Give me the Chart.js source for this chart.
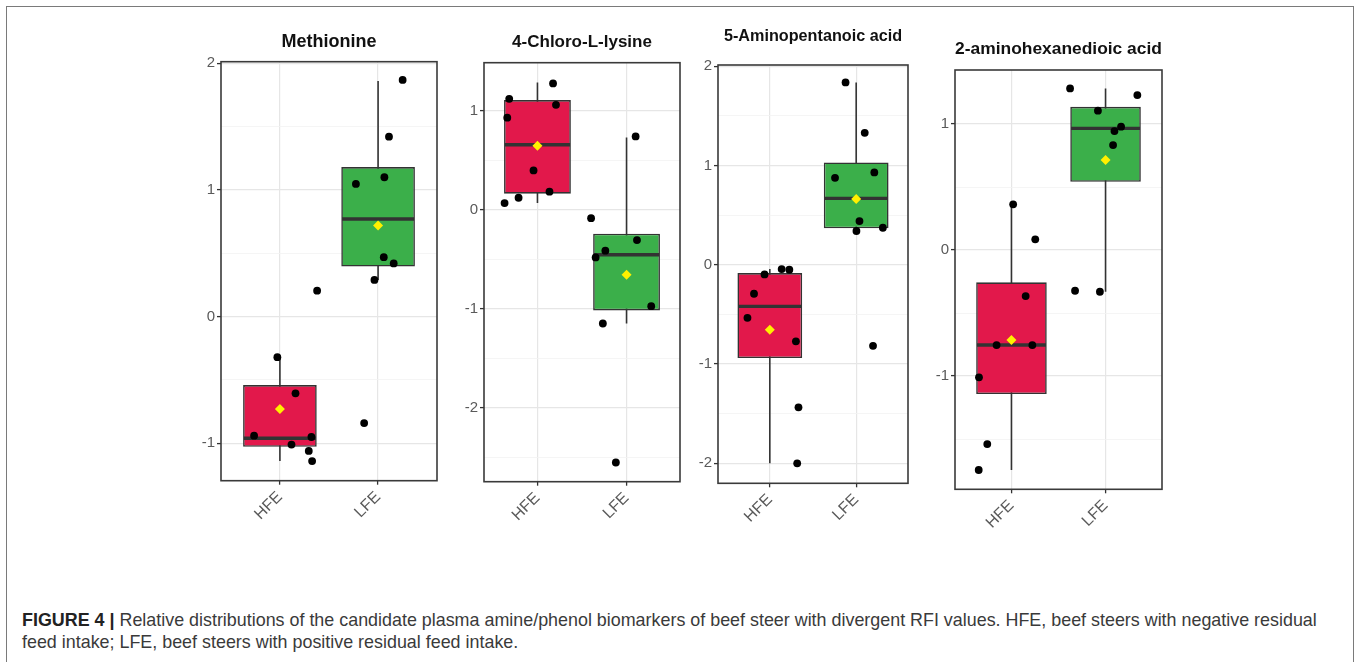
<!DOCTYPE html>
<html>
<head>
<meta charset="utf-8">
<script src="https://cdn.jsdelivr.net/npm/chart.js@4.4.1/dist/chart.umd.min.js"></script>
<style>
html,body{margin:0;padding:0;background:#fff;width:1358px;height:662px;overflow:hidden;position:relative;font-family:'Liberation Sans',Arial,sans-serif;}
#frame{position:absolute;left:6px;top:6px;width:1348px;height:720px;border:1.5px solid #7a7a7a;box-sizing:border-box;}
canvas{position:absolute;top:0;}
#caption{position:absolute;left:22px;top:609px;font-size:17.9px;line-height:22px;color:#3a3a3a;white-space:nowrap;}
#caption b{color:#222;}
</style>
</head>
<body>
<div id="frame"></div>
<div id="caption"><b>FIGURE 4 |</b> Relative distributions of the candidate plasma amine/phenol biomarkers of beef steer with divergent RFI values. HFE, beef steers with negative residual<br>feed intake; LFE, beef steers with positive residual feed intake.</div>
<script>
// ---------- data ----------
const groups = ['HFE', 'LFE'];
const titles = ['Methionine', '4-Chloro-L-lysine', '5-Aminopentanoic acid', '2-aminohexanedioic acid'];

// Methionine
const metHfeX = [0.974, 1.159, 0.737, 1.118, 1.321, 1.294, 1.328, 1.379];
const metHfeY = [-0.32, -0.605, -0.94, -1.01, -0.95, -1.06, -1.14, 0.205];
const metLfeX = [2.25, 2.111, 2.064, 1.774, 2.058, 2.159, 1.963, 1.858];
const metLfeY = [1.868, 1.42, 1.10, 1.047, 0.469, 0.42, 0.29, -0.84];
const metQ1 = [-1.027, 0.395];
const metMedian = [-0.96, 0.77];
const metQ3 = [-0.54, 1.18];
const metLow = [-1.14, 0.29];
const metHigh = [-0.32, 1.86];
const metMean = [-0.73, 0.72];
const metTicks = [-1, 0, 1, 2];
const metMinor = [-0.5, 0.5, 1.5];

// 4-Chloro-L-lysine
const chlHfeX = [0.631, 0.683, 0.661, 0.788, 0.956, 1.135, 1.175, 1.208];
const chlHfeY = [0.067, 1.12, 0.93, 0.121, 0.397, 0.182, 1.276, 1.06];
const chlLfeX = [2.102, 1.602, 2.117, 1.762, 1.653, 2.277, 1.734, 1.880];
const chlLfeY = [0.74, -0.085, -0.307, -0.414, -0.482, -0.974, -1.149, -2.553];
const chlQ1 = [0.162, -1.017];
const chlMedian = [0.657, -0.455];
const chlQ3 = [1.108, -0.242];
const chlLow = [0.067, -1.149];
const chlHigh = [1.285, 0.73];
const chlMean = [0.646, -0.657];
const chlTicks = [-2, -1, 0, 1];
const chlMinor = [-2.5, -1.5, -0.5, 0.5];

// 5-Aminopentanoic acid
const amiHfeX = [0.939, 1.137, 1.226, 0.817, 0.741, 1.302, 1.332, 1.317];
const amiHfeY = [-0.097, -0.043, -0.05, -0.292, -0.534, -0.771, -1.436, -2.0];
const amiLfeX = [1.877, 2.099, 2.21, 1.755, 2.038, 2.309, 2.003, 2.195];
const amiLfeY = [1.837, 1.329, 0.93, 0.876, 0.44, 0.373, 0.34, -0.816];
const amiQ1 = [-0.94, 0.367];
const amiMedian = [-0.419, 0.669];
const amiQ3 = [-0.084, 1.031];
const amiLow = [-2.0, 0.34];
const amiHigh = [-0.043, 1.837];
const amiMean = [-0.654, 0.662];
const amiTicks = [-2, -1, 0, 1, 2];
const amiMinor = [-1.5, -0.5, 0.5, 1.5];

// 2-aminohexanedioic acid
const adiHfeX = [1.018, 1.253, 1.151, 0.842, 1.222, 0.655, 0.743, 0.652];
const adiHfeY = [0.363, 0.085, -0.365, -0.754, -0.754, -1.01, -1.54, -1.746];
const adiLfeX = [1.623, 2.338, 1.919, 2.165, 2.095, 2.08, 1.676, 1.94];
const adiLfeY = [1.283, 1.23, 1.106, 0.979, 0.944, 0.833, -0.323, -0.331];
const adiQ1 = [-1.143, 0.542];
const adiMedian = [-0.754, 0.966];
const adiQ3 = [-0.256, 1.137];
const adiLow = [-1.746, -0.331];
const adiHigh = [0.363, 1.283];
const adiMean = [-0.714, 0.714];
const adiTicks = [-1, 0, 1];
const adiMinor = [-1.5, -0.5, 0.5];

// ---------- layout / style ----------
const boxColors = ['#E2184B', '#3BAF4A'];
const darkLine = '#333333';
const FONT = "'Liberation Sans', Arial, sans-serif";
const CANVAS_H = 545;
const YAXIS_W = 45;
const RIGHT_PAD = 10;

const panels = [
  { title: titles[0], hx: metHfeX, hy: metHfeY, lx: metLfeX, ly: metLfeY, q1: metQ1, med: metMedian, q3: metQ3, lo: metLow, hi: metHigh, mean: metMean, ticks: metTicks, minor: metMinor,
    yMin: -1.295, yMax: 2.012, left: 220.7, top: 61.7, right: 436.7, bottom: 480.7, titleY: 42, titleSize: 18 },
  { title: titles[1], hx: chlHfeX, hy: chlHfeY, lx: chlLfeX, ly: chlLfeY, q1: chlQ1, med: chlMedian, q3: chlQ3, lo: chlLow, hi: chlHigh, mean: chlMean, ticks: chlTicks, minor: chlMinor,
    yMin: -2.747, yMax: 1.485, left: 484.3, top: 62.7, right: 680.7, bottom: 481.7, titleY: 42.5, titleSize: 17 },
  { title: titles[2], hx: amiHfeX, hy: amiHfeY, lx: amiLfeX, ly: amiLfeY, q1: amiQ1, med: amiMedian, q3: amiQ3, lo: amiLow, hi: amiHigh, mean: amiMean, ticks: amiTicks, minor: amiMinor,
    yMin: -2.201, yMax: 2.012, left: 718.3, top: 65, right: 908.3, bottom: 483.3, titleY: 36.5, titleSize: 16.2 },
  { title: titles[3], hx: adiHfeX, hy: adiHfeY, lx: adiLfeX, ly: adiLfeY, q1: adiQ1, med: adiMedian, q3: adiQ3, lo: adiLow, hi: adiHigh, mean: adiMean, ticks: adiTicks, minor: adiMinor,
    yMin: -1.899, yMax: 1.429, left: 955, top: 70, right: 1162.3, bottom: 489.3, titleY: 49, titleSize: 17.4 }
];

const boxExtras = {
  id: 'boxExtras',
  afterDatasetDraw(chart, args, opts) {
    const ds = chart.data.datasets[args.index];
    if (ds.label !== 'box') return;
    const ctx = chart.ctx;
    const ys = chart.scales.y;
    ctx.save();
    ctx.strokeStyle = darkLine;
    ctx.lineWidth = 3.4;
    args.meta.data.forEach((el, i) => {
      const py = ys.getPixelForValue(opts.medians[i]);
      const half = el.width / 2;
      ctx.beginPath();
      ctx.moveTo(el.x - half + 0.8, py);
      ctx.lineTo(el.x + half - 0.8, py);
      ctx.stroke();
    });
    ctx.restore();
  },
  afterDatasetsDraw(chart) {
    const a = chart.chartArea;
    const ctx = chart.ctx;
    ctx.save();
    ctx.strokeStyle = '#3a3a3a';
    ctx.lineWidth = 1.6;
    ctx.strokeRect(a.left, a.top, a.right - a.left, a.bottom - a.top);
    ctx.restore();
  }
};

panels.forEach((p, k) => {
  const cv = document.createElement('canvas');
  const w = (p.right - p.left) + YAXIS_W + RIGHT_PAD;
  cv.width = Math.round(w);
  cv.height = CANVAS_H;
  cv.style.left = (p.left - YAXIS_W) + 'px';
  cv.style.width = Math.round(w) + 'px';
  cv.style.height = CANVAS_H + 'px';
  document.body.appendChild(cv);

  const isMajor = v => p.ticks.some(t => Math.abs(t - v) < 1e-9);
  const pts = p.hx.map((x, i) => ({ x: x, y: p.hy[i] })).concat(p.lx.map((x, i) => ({ x: x, y: p.ly[i] })));

  new Chart(cv, {
    type: 'bar',
    data: {
      datasets: [
        { type: 'scatter', label: 'mean', order: 0,
          data: groups.map((g, i) => ({ x: i + 1, y: p.mean[i] })),
          pointStyle: 'rectRot', pointRadius: 5, backgroundColor: '#FFF000', borderWidth: 0 },
        { type: 'scatter', label: 'points', order: 1,
          data: pts, pointRadius: 3.9, backgroundColor: '#000000', borderWidth: 0 },
        { type: 'bar', label: 'box', order: 2, grouped: false,
          data: groups.map((g, i) => ({ x: i + 1, y: [p.q1[i], p.q3[i]] })),
          backgroundColor: boxColors, borderColor: darkLine, borderWidth: 1.6, borderSkipped: false,
          categoryPercentage: 1, barPercentage: 0.75 },
        { type: 'bar', label: 'whisker', order: 3, grouped: false,
          data: groups.map((g, i) => ({ x: i + 1, y: [p.lo[i], p.hi[i]] })),
          backgroundColor: darkLine, borderWidth: 0, maxBarThickness: 1.6,
          categoryPercentage: 1, barPercentage: 0.75 }
      ]
    },
    options: {
      responsive: false,
      devicePixelRatio: 1,
      animation: false,
      layout: { padding: { left: 0, right: RIGHT_PAD, top: 0, bottom: 0 } },
      plugins: {
        legend: { display: false },
        tooltip: { enabled: false },
        title: {
          display: true, text: p.title, fullSize: false, color: '#111111',
          font: { family: FONT, size: p.titleSize, weight: 'bold', lineHeight: 1 },
          padding: { top: p.titleY - p.titleSize / 2, bottom: p.top - p.titleY - p.titleSize / 2 }
        },
        boxExtras: { medians: p.med }
      },
      scales: {
        x: {
          type: 'linear', min: 0.4, max: 2.6, offset: false,
          afterBuildTicks: s => { s.ticks = groups.map((g, i) => ({ value: i + 1 })); },
          afterFit: s => { s.height = CANVAS_H - p.bottom; },
          grid: { offset: false, color: '#E6E6E6', lineWidth: 1.2, drawTicks: true, tickLength: 4, tickColor: darkLine, tickWidth: 1.3 },
          border: { display: false },
          ticks: {
            autoSkip: false, minRotation: 45, maxRotation: 45, padding: 3,
            color: '#5a5a5a', font: { family: FONT, size: 16 },
            callback: v => groups[Math.round(v) - 1]
          }
        },
        y: {
          type: 'linear', min: p.yMin, max: p.yMax,
          afterBuildTicks: s => { s.ticks = p.ticks.concat(p.minor).sort((a, b) => a - b).map(v => ({ value: v })); },
          afterFit: s => { s.width = YAXIS_W; },
          grid: {
            color: c => isMajor(c.tick.value) ? '#E6E6E6' : '#F2F2F2',
            lineWidth: c => isMajor(c.tick.value) ? 1.2 : 0.8,
            drawTicks: true, tickLength: 4, tickWidth: 1.3,
            tickColor: c => isMajor(c.tick.value) ? darkLine : 'rgba(0,0,0,0)'
          },
          border: { display: false },
          ticks: {
            autoSkip: false, padding: 2, color: '#5a5a5a', font: { family: FONT, size: 15 },
            callback: v => isMajor(v) ? String(Math.round(v)) : ''
          }
        }
      }
    },
    plugins: [boxExtras]
  });
});
</script>
</body>
</html>
